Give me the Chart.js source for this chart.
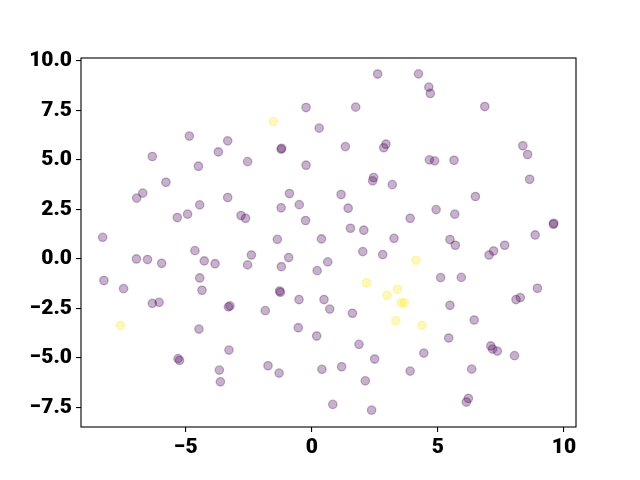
<!DOCTYPE html>
<html>
<head>
<meta charset="utf-8">
<script src="https://cdn.jsdelivr.net/npm/chart.js@4/dist/chart.umd.min.js"></script>
<style>
  html, body { margin: 0; padding: 0; background: #ffffff; }
  canvas { display: block; }
</style>
</head>
<body>
<canvas id="c" width="640" height="480"></canvas>
<script>
// Class 0 (purple) points [x, y]
const class0 = [
  [-4.86, 6.20], [-3.34, 5.96], [-6.33, 5.17], [-3.71, 5.40], [-4.50, 4.68],
  [-2.55, 4.91], [-5.79, 3.87], [2.61, 9.33], [-0.23, 7.64], [1.74, 7.66],
  [0.29, 6.60], [-1.22, 5.54], [-1.20, 5.58], [1.33, 5.67], [2.94, 5.79],
  [2.85, 5.61], [-0.23, 4.73], [2.45, 4.11], [2.41, 3.94], [4.23, 9.34],
  [4.64, 8.67], [4.70, 8.35], [6.86, 7.69], [8.37, 5.71], [8.56, 5.27],
  [4.66, 5.00], [4.87, 4.95], [5.64, 4.98], [8.64, 4.02], [-6.71, 3.32],
  [-6.95, 3.07], [-4.45, 2.73], [-3.34, 3.10], [-5.34, 2.09], [-4.93, 2.26],
  [-2.81, 2.19], [-2.63, 2.05], [-8.30, 1.09], [-6.96, 0.00], [-6.52, -0.03],
  [-5.96, -0.22], [-4.64, 0.42], [-4.27, -0.10], [-3.84, -0.24], [-2.40, 0.20],
  [-2.55, -0.30], [-8.25, -1.09], [-7.47, -1.50], [-4.45, -0.96], [-4.36, -1.58],
  [-6.33, -2.24], [-6.06, -2.19], [-3.31, -2.42], [-3.25, -2.37], [3.19, 3.75],
  [-0.89, 3.30], [1.16, 3.25], [-1.22, 2.58], [-0.50, 2.74], [1.44, 2.56],
  [-0.25, 1.94], [3.90, 2.05], [1.53, 1.55], [2.06, 1.45], [-1.37, 0.99],
  [0.38, 1.01], [3.26, 1.04], [-0.92, 0.07], [-1.21, -0.39], [0.63, -0.15],
  [0.21, -0.59], [2.02, 0.37], [2.81, 0.22], [-1.28, -1.62], [-1.25, -1.68],
  [-0.51, -2.05], [0.48, -2.05], [6.49, 3.15], [4.93, 2.49], [5.67, 2.26],
  [9.58, 1.75], [9.60, 1.80], [8.86, 1.21], [5.48, 0.98], [5.69, 0.69],
  [7.65, 0.69], [7.21, 0.40], [7.03, 0.20], [5.11, -0.94], [5.93, -0.93],
  [8.95, -1.48], [8.27, -1.95], [8.10, -2.05], [5.48, -2.34], [6.44, -3.08],
  [5.43, -3.99], [4.44, -4.75], [7.10, -4.39], [7.17, -4.55], [7.36, -4.65],
  [8.04, -4.88], [3.90, -5.66], [6.34, -5.56], [6.21, -7.04], [6.13, -7.22],
  [-4.48, -3.54], [-5.31, -5.03], [-5.25, -5.12], [-3.29, -4.60], [-3.67, -5.61],
  [-3.63, -6.20], [-1.85, -2.61], [0.71, -2.53], [1.61, -2.74], [-0.54, -3.47],
  [0.19, -3.89], [1.87, -4.31], [2.49, -5.05], [-1.74, -5.39], [-1.30, -5.76],
  [0.40, -5.57], [1.18, -5.44], [2.12, -6.15], [0.83, -7.34], [2.37, -7.63]
];

// Class 1 (yellow) points [x, y]
const class1 = [
  [-1.53, 6.93], [2.17, -1.20], [2.98, -1.83], [3.39, -1.53], [3.55, -2.21],
  [3.67, -2.21], [4.13, -0.07], [4.37, -3.35], [-7.59, -3.35], [3.33, -3.12]
];

const xTicks = [-5, 0, 5, 10];
const yTicks = [-7.5, -5.0, -2.5, 0.0, 2.5, 5.0, 7.5, 10.0];
const xRange = [-9.16, 10.48];
const yRange = [-8.48, 10.14];

const toPts = arr => arr.map(p => ({ x: p[0], y: p[1] }));
const fmtMinus = s => s.replace('-', '\u2212');

const framePlugin = {
  id: 'frame',
  beforeDraw(chart) {
    const ctx = chart.ctx;
    ctx.save();
    ctx.fillStyle = '#ffffff';
    ctx.fillRect(0, 0, chart.width, chart.height);
    ctx.restore();
  },
  afterDraw(chart) {
    const a = chart.chartArea;
    const ctx = chart.ctx;
    ctx.save();
    ctx.strokeStyle = '#000000';
    ctx.lineWidth = 1.1;
    ctx.strokeRect(a.left, a.top, a.right - a.left, a.bottom - a.top);
    ctx.restore();
  }
};

const tickFont = { family: 'Roboto', weight: '900', size: 21 };

new Chart(document.getElementById('c'), {
  type: 'scatter',
  data: {
    datasets: [
      {
        data: toPts(class0),
        backgroundColor: 'rgba(68,1,84,0.3)',
        borderColor: 'rgba(68,1,84,0.3)',
        borderWidth: 1.3,
        pointRadius: 4.2
      },
      {
        data: toPts(class1),
        backgroundColor: 'rgba(253,231,37,0.3)',
        borderColor: 'rgba(253,231,37,0.3)',
        borderWidth: 1.3,
        pointRadius: 4.2
      }
    ]
  },
  options: {
    responsive: false,
    animation: false,
    events: [],
    layout: { padding: { top: 58, right: 64, left: 0, bottom: 0 } },
    plugins: { legend: { display: false }, tooltip: { enabled: false } },
    scales: {
      x: {
        type: 'linear',
        min: xRange[0],
        max: xRange[1],
        afterBuildTicks: s => { s.ticks = xTicks.map(v => ({ value: v })); },
        afterFit: s => { s.height = 53; },
        border: { display: false },
        grid: { drawOnChartArea: false, drawTicks: true, tickLength: 5, color: '#000', lineWidth: 1.1 },
        ticks: {
          color: '#000',
          font: tickFont,
          padding: 3,
          maxRotation: 0,
          callback: v => fmtMinus(String(v))
        }
      },
      y: {
        type: 'linear',
        min: yRange[0],
        max: yRange[1],
        afterBuildTicks: s => { s.ticks = yTicks.map(v => ({ value: v })); },
        afterFit: s => { s.width = 81; },
        border: { display: false },
        grid: { drawOnChartArea: false, drawTicks: true, tickLength: 5, color: '#000', lineWidth: 1.1 },
        ticks: {
          color: '#000',
          font: tickFont,
          padding: 4,
          callback: v => fmtMinus(Number(v).toFixed(1))
        }
      }
    }
  },
  plugins: [framePlugin]
});
</script>
</body>
</html>
